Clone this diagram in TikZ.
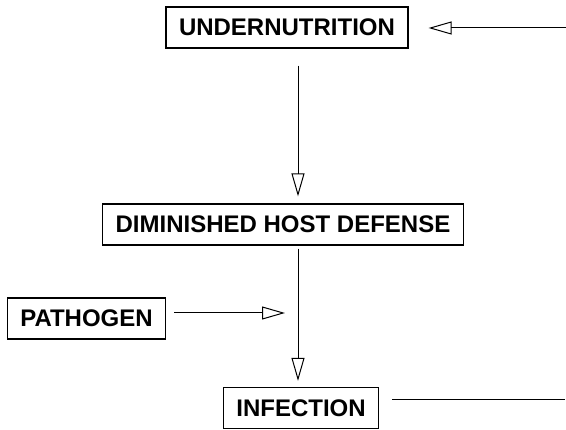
\documentclass[tikz,border=0pt]{standalone}
\usepackage{fontspec}
\setmainfont{Liberation Sans}
\usetikzlibrary{arrows.meta,positioning}

\begin{document}
\begin{tikzpicture}[x=1pt,y=-1pt,box/.style={draw,line width=1.2pt,inner xsep=13pt,inner ysep=4pt,minimum height=41pt,font=\fontsize{24}{28}\selectfont\bfseries},arr/.style={-{Triangle[open,length=23pt,width=13pt]},line width=1pt},plain/.style={line width=1pt}]
\useasboundingbox (0,0) rectangle (566,430);
\node[box](under) at (287,27.5){UNDERNUTRITION};
\node[box](host) at (283,224.5){DIMINISHED HOST DEFENSE};
\node[box](pathogen) at (86.5,318.5){PATHOGEN};
\node[box](infect) at (301,408){INFECTION};
\coordinate (spine) at (298,0);
\coordinate (inflow) at (566,28);
\coordinate (outflow) at (565,400);
\draw[arr,shorten <=17pt,shorten >=7pt](under.south -| spine)--(host.north -| spine);
\draw[arr,shorten <=3pt,shorten >=6pt](host.south -| spine)--(infect.north -| spine);
\draw[arr,shorten <=8pt,shorten >=13pt]([yshift=5.5pt]pathogen.east)--([yshift=5.5pt]pathogen.east -| spine);
\draw[arr,shorten >=20pt](inflow)--(inflow -| under.east);
\draw[plain,shorten <=13pt](infect.east |- outflow)--(outflow);
\end{tikzpicture}
\end{document}
